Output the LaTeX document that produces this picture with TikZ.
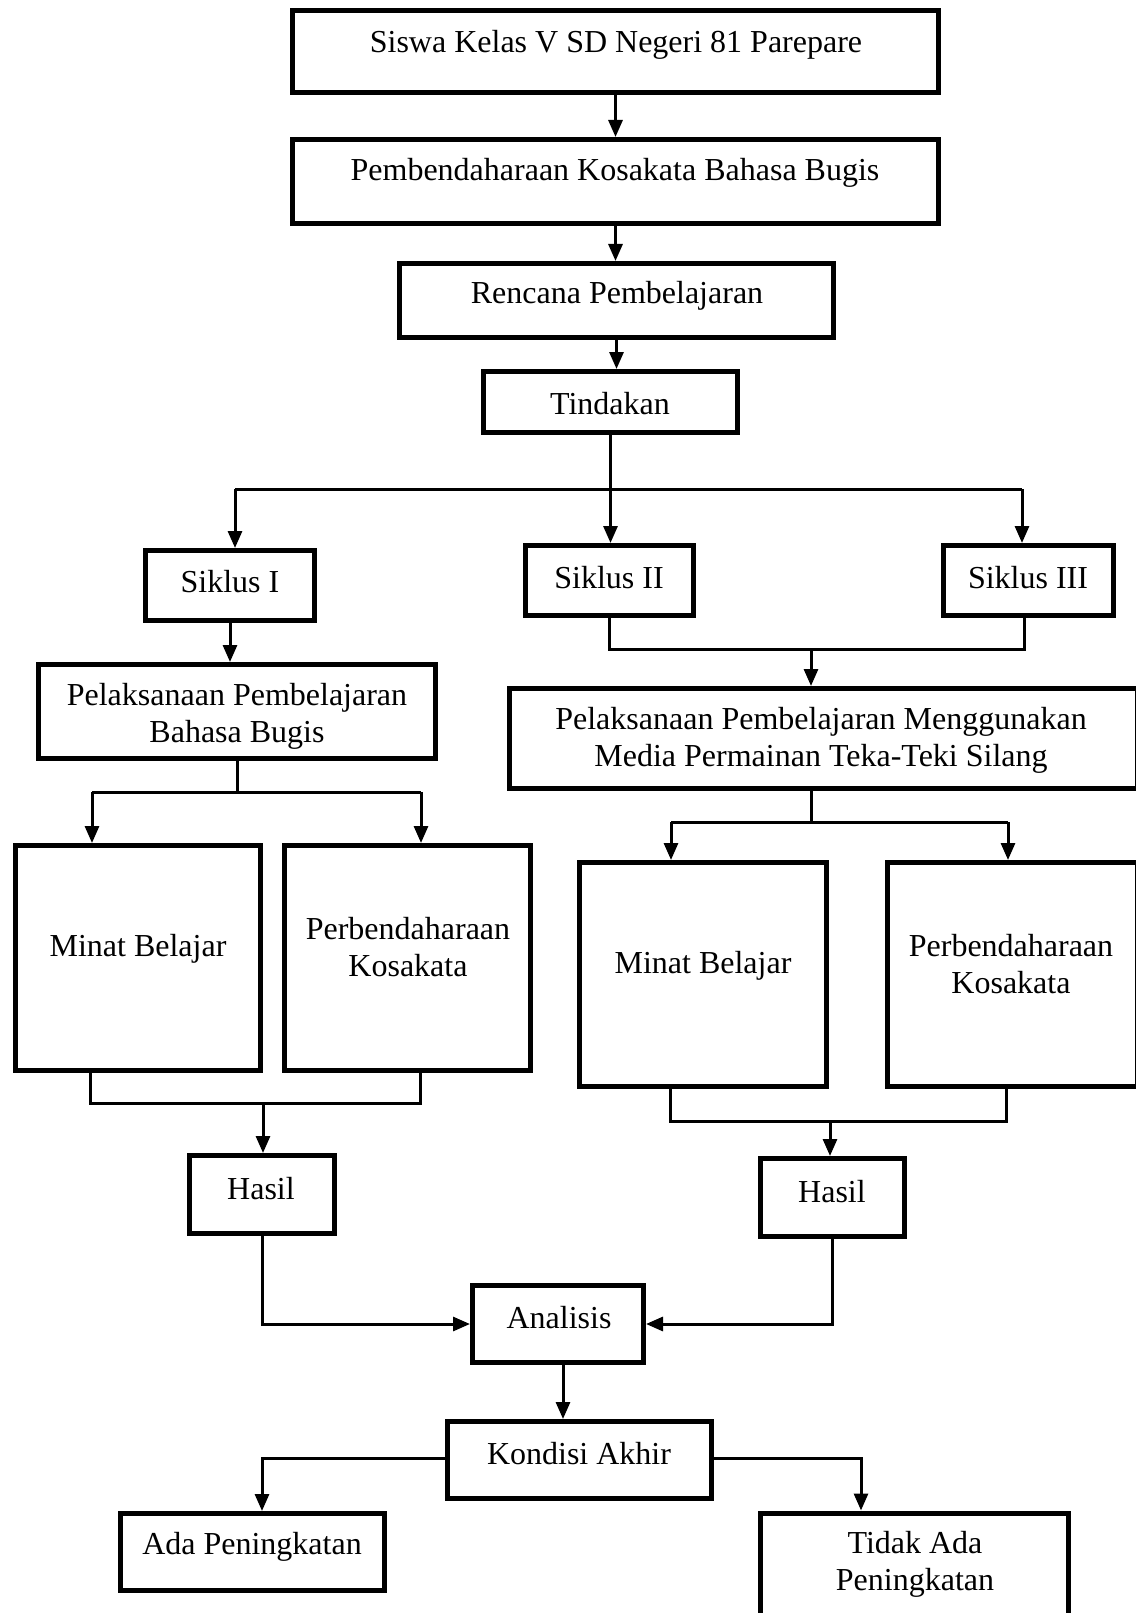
\documentclass[tikz,border=0pt]{standalone}
\usepackage{fontspec}
\setmainfont{Liberation Serif}
\usetikzlibrary{arrows.meta}
\begin{document}
\begin{tikzpicture}[x=1pt,y=-1pt,
  box/.style={draw, line width=5pt, fill=white, inner sep=0pt},
  txt/.style={font=\fontsize{32}{37}\selectfont, align=center, inner sep=0pt, anchor=center},
  conn/.style={line width=3pt},
  arr/.style={line width=3pt, -{Triangle[width=14pt,length=17pt]}}]
\useasboundingbox (0,0) rectangle (1135,1613);
% boxes
\node[box, minimum width=646, minimum height=82] (siswa) at (615.5,51.5) {};
\node[box, minimum width=646, minimum height=84] (pemb) at (615.5,181.5) {};
\node[box, minimum width=434, minimum height=74] (rencana) at (616.5,300.5) {};
\node[box, minimum width=254, minimum height=61] (tindakan) at (610.5,402) {};
\node[box, minimum width=169, minimum height=70] (siklus1) at (230,585.5) {};
\node[box, minimum width=168, minimum height=70] (siklus2) at (609.5,580.5) {};
\node[box, minimum width=170, minimum height=70] (siklus3) at (1028.5,580.5) {};
\node[box, minimum width=397, minimum height=94] (pelL) at (237,711.5) {};
\node[box, minimum width=628, minimum height=100] (pelR) at (823.5,738.5) {};
\node[box, minimum width=245, minimum height=225] (minatL) at (138,958) {};
\node[box, minimum width=246, minimum height=225] (perbL) at (407.5,958) {};
\node[box, minimum width=247, minimum height=224] (minatR) at (703,974.5) {};
\node[box, minimum width=250, minimum height=224] (perbR) at (1012.5,974.5) {};
\node[box, minimum width=145, minimum height=78] (hasilL) at (262,1194.5) {};
\node[box, minimum width=144, minimum height=78] (hasilR) at (832.5,1197.5) {};
\node[box, minimum width=171, minimum height=77] (analisis) at (558,1324) {};
\node[box, minimum width=264, minimum height=77] (kondisi) at (579.5,1460) {};
\node[box, minimum width=264, minimum height=77] (ada) at (252.5,1552) {};
\node[box, minimum width=308, minimum height=125] (tidak) at (914.5,1575.5) {};
% texts
\node[txt] (t-siswa) at (616,45) {Siswa Kelas V SD Negeri 81 Parepare};
\node[txt] (t-pemb) at (615,173) {Pembendaharaan Kosakata Bahasa Bugis};
\node[txt] (t-rencana) at (617,296) {Rencana Pembelajaran};
\node[txt] (t-tindakan) at (610,404) {Tindakan};
\node[txt] (t-s1) at (230,582) {Siklus I};
\node[txt] (t-s2) at (609,578) {Siklus II};
\node[txt] (t-s3) at (1028,578) {Siklus III};
\node[txt] (t-pelL) at (237,716) {Pelaksanaan Pembelajaran\\Bahasa Bugis};
\node[txt] (t-pelR) at (821,740) {Pelaksanaan Pembelajaran Menggunakan\\Media Permainan Teka-Teki Silang};
\node[txt] (t-minatL) at (138,949) {Minat Belajar};
\node[txt] (t-perbL) at (408,947) {Perbendaharaan\\Kosakata};
\node[txt] (t-minatR) at (703,966) {Minat Belajar};
\node[txt] (t-perbR) at (1011,964) {Perbendaharaan\\Kosakata};
\node[txt] (t-hasilL) at (261,1189) {Hasil};
\node[txt] (t-hasilR) at (832,1192) {Hasil};
\node[txt] (t-analisis) at (559,1318) {Analisis};
\node[txt] (t-kondisi) at (579,1454) {Kondisi Akhir};
\node[txt] (t-ada) at (252,1547) {Ada Peningkatan};
\node[txt] (t-tidak) at (915,1564) {Tidak Ada\\Peningkatan};
% junction coordinates
\coordinate (j1L) at (235,489);
\coordinate (j1R) at (1022,489);
\coordinate (j2) at (811,649);
\coordinate (j3) at (237,792);
\coordinate (j3L) at (92,792);
\coordinate (j3R) at (421,792);
\coordinate (j4) at (811,822);
\coordinate (j4L) at (671,822);
\coordinate (j4R) at (1008,822);
\coordinate (j5) at (263,1103);
\coordinate (j6) at (830,1121);
\coordinate (j7) at (563,1365);
\coordinate (j8L) at (262,1458);
\coordinate (j8R) at (861,1458);
% connectors
\draw[arr] (siswa.south) -- (pemb.north);
\draw[arr] (pemb.south) -- (pemb.south |- rencana.north);
\draw[arr] (rencana.south) -- (rencana.south |- tindakan.north);
\draw[arr] (tindakan.south) -- (tindakan.south |- siklus2.north);
\draw[conn] (j1L) -- (j1R);
\draw[arr] (j1L) -- (j1L |- siklus1.north);
\draw[arr] (j1R) -- (j1R |- siklus3.north);
\draw[arr] (siklus1.south) -- (siklus1.south |- pelL.north);
\draw[conn] (siklus2.south) |- (j2) -| (siklus3.south -| 1024,0);
\draw[arr] (j2) -- (j2 |- pelR.north);
\draw[conn] (pelL.south -| j3) -- (j3);
\draw[conn] (j3L) -- (j3R);
\draw[arr] (j3L) -- (j3L |- minatL.north);
\draw[arr] (j3R) -- (j3R |- perbL.north);
\draw[conn] (pelR.south -| j4) -- (j4);
\draw[conn] (j4L) -- (j4R);
\draw[arr] (j4L) -- (j4L |- minatR.north);
\draw[arr] (j4R) -- (j4R |- perbR.north);
\draw[conn] (minatL.south -| 90,0) |- (j5) -| (perbL.south -| 420,0);
\draw[arr] (j5) -- (j5 |- hasilL.north);
\draw[conn] (minatR.south -| 670,0) |- (j6) -| (perbR.south -| 1006,0);
\draw[arr] (j6) -- (j6 |- hasilR.north);
\draw[arr] (hasilL.south) |- (analisis.west);
\draw[arr] (hasilR.south) |- (analisis.east);
\draw[arr] (j7) -- (j7 |- kondisi.north);
\draw[arr] (kondisi.west |- j8L) -- (j8L) -- (j8L |- ada.north);
\draw[arr] (kondisi.east |- j8R) -- (j8R) -- (j8R |- tidak.north);
\end{tikzpicture}
\end{document}
